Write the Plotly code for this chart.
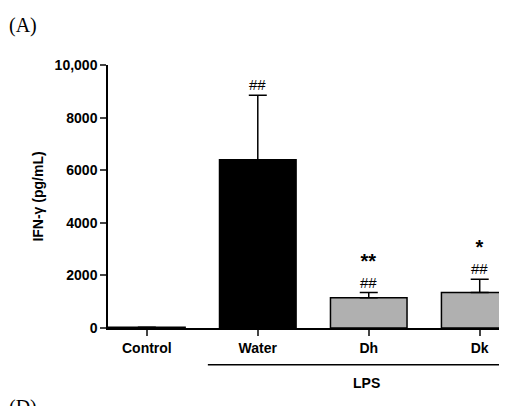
import plotly.graph_objects as go

categories = ["Control", "Water", "Dh", "Dk"]
values = [30, 6400, 1150, 1350]
errors = [0, 2450, 200, 500]
colors = ["#000000", "#000000", "#b0b0b0", "#b0b0b0"]
marks = ["", "##", "<b><span style='font-size:20px'>**</span></b><br>##", "<b><span style='font-size:20px'>*</span></b><br>##"]

fig = go.Figure(go.Bar(
    x=[0, 1, 2, 3], y=values, width=0.69,
    marker=dict(color=colors, line=dict(color="black", width=1.5)),
    error_y=dict(type="data", array=errors, symmetric=False, arrayminus=[0]*4,
                 color="black", thickness=1.5, width=9),
))
for i, (v, e, m) in enumerate(zip(values, errors, marks)):
    if m:
        fig.add_annotation(x=i, y=v + e, text=m, showarrow=False, yanchor="bottom",
                           font=dict(family="Liberation Sans", size=15, color="black"))
fig.add_shape(type="line", xref="x", yref="paper", x0=0.55, x1=3.4, y0=-0.14, y1=-0.14,
              line=dict(color="black", width=1.5))
fig.add_annotation(xref="x", yref="paper", x=1.98, y=-0.17, text="<b>LPS</b>", showarrow=False,
                   yanchor="top", font=dict(family="Liberation Sans", size=14, color="black"))
fig.add_annotation(xref="paper", yref="paper", x=-0.25, y=1.2, text="(A)", showarrow=False,
                   xanchor="left", font=dict(family="Liberation Serif", size=20, color="black"))
fig.add_annotation(xref="paper", yref="paper", x=-0.25, y=-0.25, text="(D)", showarrow=False,
                   xanchor="left", yanchor="top", font=dict(family="Liberation Serif", size=20, color="black"))

fig.update_layout(
    width=507, height=406, margin=dict(l=100, r=2, t=57, b=86),
    plot_bgcolor="white", paper_bgcolor="white", showlegend=False,
    font=dict(family="Liberation Sans", color="black"),
    xaxis=dict(range=[-0.35, 3.3], tickvals=[0, 1, 2, 3], ticktext=[f"<b>{c}</b>" for c in categories],
               showline=True, linecolor="black", linewidth=1.5, ticks="outside", ticklen=6,
               tickwidth=1.5, tickfont=dict(size=14), showgrid=False, zeroline=False),
    yaxis=dict(range=[0, 10000], tickvals=[0, 2000, 4000, 6000, 8000, 10000],
               ticktext=["<b>0</b>", "<b>2000</b>", "<b>4000</b>", "<b>6000</b>", "<b>8000</b>", "<b>10,000</b>"],
               showline=True, linecolor="black", linewidth=1.5, ticks="outside", ticklen=6,
               tickwidth=1.5, tickfont=dict(size=14), showgrid=False, zeroline=False,
               title=dict(text="<b>IFN-γ (pg/mL)</b>", font=dict(size=14), standoff=8)),
)
fig.write_html("out.html")
